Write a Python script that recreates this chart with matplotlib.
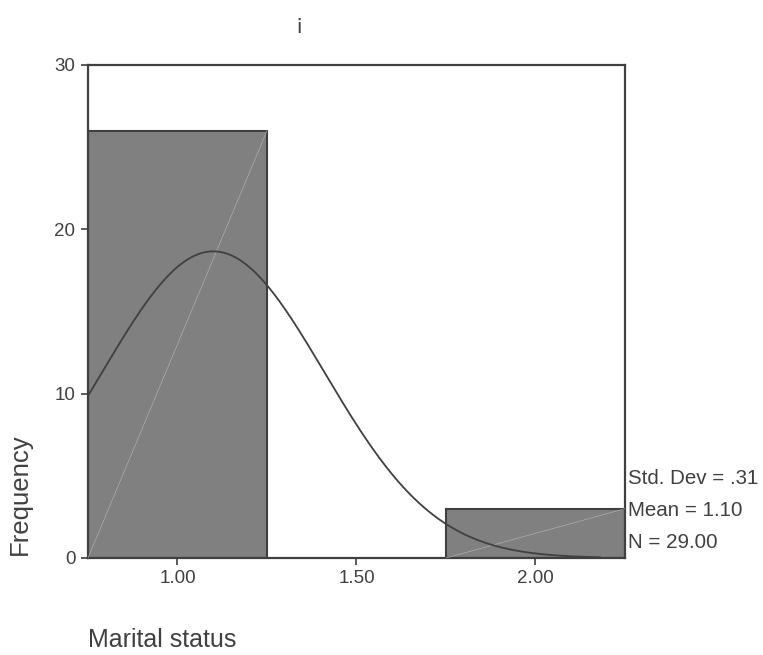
import numpy as np
import matplotlib.pyplot as plt

plt.rcParams["font.family"] = ["Liberation Sans", "DejaVu Sans"]

# histogram of marital status
bin_edges = [0.75, 1.25, 1.75, 2.25]
counts = [26, 0, 3]
x_ticks = [1.00, 1.50, 2.00]
x_tick_labels = ["1.00", "1.50", "2.00"]
y_ticks = [0, 10, 20, 30]
stats_mean = 1.10
stats_sd = 0.31
stats_n = 29

dark = "#404040"
bar_color = "#808080"

fig = plt.figure(figsize=(7.63, 6.55), dpi=100)
ax = fig.add_axes([0.1153, 0.1481, 0.7038, 0.7527])

widths = np.diff(bin_edges)
lefts = np.array(bin_edges[:-1])
for left, w, c in zip(lefts, widths, counts):
    if c == 0:
        continue
    ax.bar(left, c, width=w, align="edge", color=bar_color, edgecolor=dark,
           linewidth=1.5, zorder=2)
    # thin diagonal across each bar
    ax.plot([left, left + w], [0, c], color="#b8b8b8", linewidth=0.4, zorder=3)

# normal curve scaled to counts
bw = widths[0]
xs = np.linspace(bin_edges[0], 2.18, 300)
ys = stats_n * bw / (stats_sd * np.sqrt(2 * np.pi)) * np.exp(-0.5 * ((xs - stats_mean) / stats_sd) ** 2)
ax.plot(xs, ys, color=dark, linewidth=1.3, zorder=4)

ax.set_xlim(bin_edges[0], bin_edges[-1])
ax.set_ylim(0, 30)
ax.set_xticks(x_ticks)
ax.set_xticklabels(x_tick_labels)
ax.set_yticks(y_ticks)
ax.tick_params(axis="both", direction="out", length=5, width=1.2, color=dark,
               labelcolor=dark, labelsize=13.5, pad=4)
for sp in ax.spines.values():
    sp.set_color(dark)
    sp.set_linewidth(1.6)

fig.text(0.0262, 0.245, "Frequency", rotation=90, ha="center", va="center",
         fontsize=18.5, color=dark)
fig.text(0.1153, 0.023, "Marital status", ha="left", va="center",
         fontsize=18, color=dark)

stats_lines = [f"Std. Dev = .{int(round(stats_sd * 100))}",
               f"Mean = {stats_mean:.2f}",
               f"N = {stats_n:.2f}"]
for i, s in enumerate(stats_lines):
    fig.text(0.8231, 1 - (478 + i * 32.5) / 655, s, ha="left", va="center",
             fontsize=14.8, color=dark)

fig.text(0.392, 0.963, "\u00a1", ha="center", va="center", fontsize=16, color=dark)

fig.savefig("out.png", dpi=100)
